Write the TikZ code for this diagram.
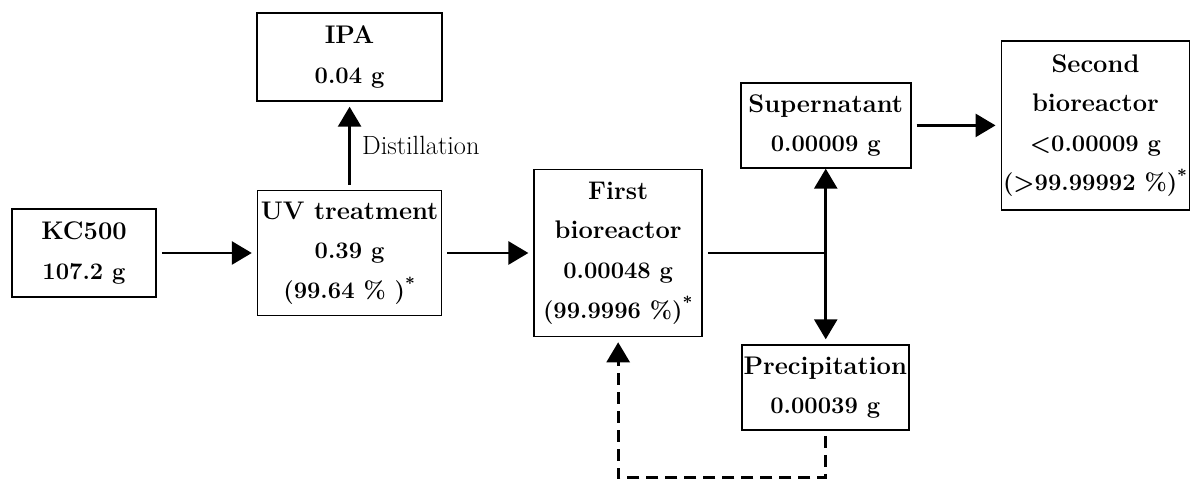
\documentclass[tikz,border=0pt]{standalone}
\usepackage{xcolor}
\usepackage{tikz}
\usetikzlibrary{arrows.meta,positioning}
\newcommand{\amt}[1]{{\fontsize{13.5}{22.5}\selectfont #1}}

\begin{document}
\begin{tikzpicture}[node distance=2cm,>={Triangle[length=0.4cm,width=0.46cm]}]
\tikzstyle{unit}=[rectangle,draw,line width=0.9pt,align=center,inner sep=1pt,
                  font=\fontsize{14.5}{22.5}\selectfont\bfseries]
\tikzstyle{flow}=[line width=1.6pt,shorten <=0.1cm,shorten >=0.1cm]
\useasboundingbox (0,0) rectangle (23.84,-9.68);
\node[unit,minimum width=2.88cm,minimum height=1.76cm] (kc) at (1.68,-5.06)
  {KC500\\\amt{107.2 g}};
\node[unit,minimum width=3.68cm,minimum height=2.5cm,right=2cm of kc] (uv)
  {UV treatment\\\amt{0.39 g}\\\amt{(99.64 \% )\textsuperscript{*}}};
\node[unit,minimum width=3.7cm,minimum height=1.76cm,above=1.76cm of uv] (ipa)
  {IPA\\\amt{0.04 g}};
\node[unit,minimum width=3.36cm,minimum height=3.34cm,right=1.82cm of uv] (first)
  {First\\bioreactor\\\amt{0.00048 g}\\\amt{(99.9996 \%)\textsuperscript{*}}};
\node[unit,minimum width=3.4cm,minimum height=1.7cm,above right=0cm and 0.74cm of first] (sup)
  {Supernatant\\\amt{0.00009 g}};
\node[unit,minimum width=3.3cm,minimum height=1.7cm,below right=0.14cm and 0.76cm of first] (prec)
  {Precipitation\\\amt{0.00039 g}};
\node[unit,minimum width=3.72cm,minimum height=3.38cm,right=1.78cm of sup] (second)
  {Second\\bioreactor\\\amt{<0.00009 g}\\\amt{(>99.99992 \%)\textsuperscript{*}}};
\coordinate (split) at (sup.south |- first.east);
\draw[flow,->] (kc) -- (uv);
\draw[flow,->] (uv) -- (first);
\draw[flow,->] (uv) --
  node[right=3pt,font=\fontsize{15}{17}\selectfont]{Distillation} (ipa);
\draw[flow,shorten >=0pt] (first) -- (split);
\draw[flow,<->,shorten <=0pt] (sup.south) -- (sup.south |- prec.north);
\draw[flow,->] (sup) -- (second);
\draw[flow,->,dash pattern=on 0.24cm off 0.14cm]
  (prec.south) -- ++(0,-0.94) -| (first.south);
\end{tikzpicture}
\end{document}
